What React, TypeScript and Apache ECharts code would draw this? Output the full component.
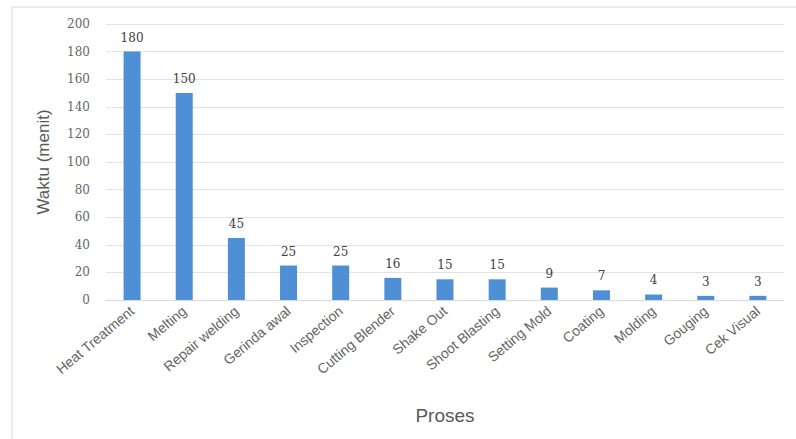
import React, { useEffect, useRef } from "react";
import * as echarts from "echarts";

const categories = [
  "Heat Treatment",
  "Melting",
  "Repair welding",
  "Gerinda awal",
  "Inspection",
  "Cutting Blender",
  "Shake Out",
  "Shoot Blasting",
  "Setting Mold",
  "Coating",
  "Molding",
  "Gouging",
  "Cek Visual",
];
const durations = [180, 150, 45, 25, 25, 16, 15, 15, 9, 7, 4, 3, 3];
const yTicks = [0, 20, 40, 60, 80, 100, 120, 140, 160, 180, 200];

export default function App() {
  const ref = useRef<HTMLDivElement>(null);

  useEffect(() => {
    if (!ref.current) return;
    const chart = echarts.init(ref.current, null, { renderer: "svg" });
    const font = "'Liberation Sans', Arial, sans-serif";
    const serif = "'DejaVu Serif', serif";
    chart.setOption({
      animation: false,
      backgroundColor: "#ffffff",
      textStyle: { fontFamily: font },
      graphic: [
        {
          type: "rect",
          shape: { x: 12, y: 7, width: 800, height: 450 },
          style: { fill: "none", stroke: "#d9d9d9", lineWidth: 1 },
          silent: true,
        },
      ],
      grid: { left: 106, right: 12, top: 24, bottom: 139 },
      xAxis: {
        type: "category",
        data: categories,
        name: "Proses",
        nameLocation: "middle",
        nameGap: 106,
        nameTextStyle: { color: "#595959", fontSize: 19, fontFamily: font },
        axisLine: { lineStyle: { color: "#d9d9d9" } },
        axisTick: { show: false },
        axisLabel: {
          rotate: 40,
          interval: 0,
          color: "#666666",
          fontSize: 14,
          margin: 9,
          fontFamily: font,
        },
      },
      yAxis: {
        type: "value",
        min: yTicks[0],
        max: yTicks[yTicks.length - 1],
        interval: 20,
        name: "Waktu (menit)",
        nameLocation: "middle",
        nameGap: 54,
        nameTextStyle: { color: "#595959", fontSize: 17, fontFamily: font },
        axisLine: { show: false },
        axisTick: { show: false },
        axisLabel: { color: "#666666", fontSize: 12, margin: 16, fontFamily: serif },
        splitLine: { lineStyle: { color: "#e3e3e3" } },
      },
      series: [
        {
          type: "bar",
          data: durations,
          barWidth: 17,
          itemStyle: { color: "#4f8fd6" },
          label: {
            show: true,
            position: "top",
            distance: 8,
            color: "#404040",
            fontSize: 12,
            fontFamily: serif,
          },
        },
      ],
    });
    return () => chart.dispose();
  }, []);

  return (
    <div
      ref={ref}
      style={{ position: "fixed", left: 0, top: 0, width: 796, height: 439 }}
    />
  );
}
